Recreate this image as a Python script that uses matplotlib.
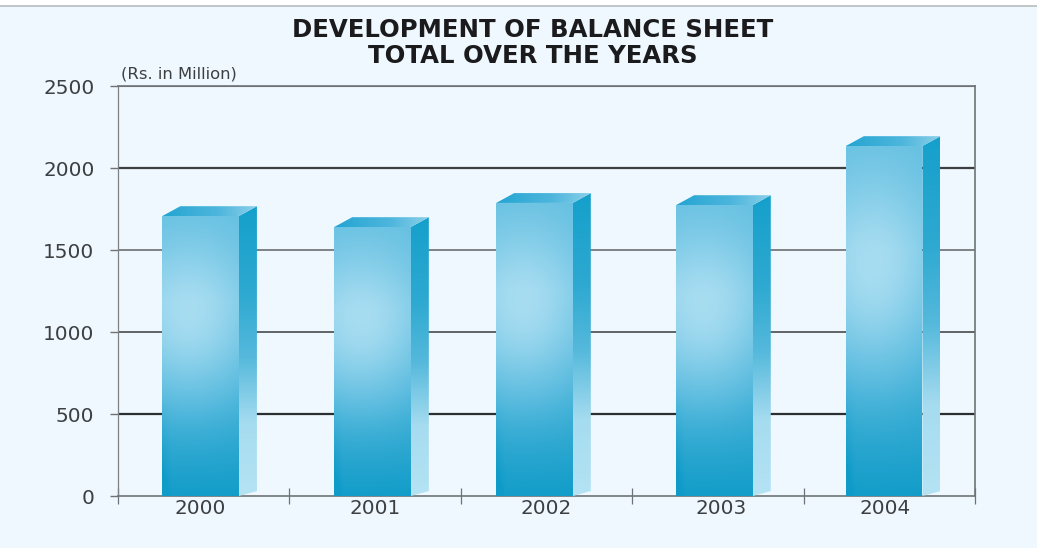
import numpy as np
import matplotlib
matplotlib.use("Agg")
import matplotlib.pyplot as plt
from matplotlib.colors import LinearSegmentedColormap
from matplotlib.patches import Polygon

plt.rcParams['font.family'] = ['DejaVu Sans']

years = ['2000', '2001', '2002', '2003', '2004']
balance_total = [1707, 1640, 1787, 1774, 2134]
y_ticks = [0, 500, 1000, 1500, 2000, 2500]

# Horizontal placement of each bar and label, in slot units
bar_centres = [0.482, 1.485, 2.430, 3.480, 4.470]
label_centres = [0.482, 1.500, 2.498, 3.520, 4.478]
bar_width = 0.447
depth_x = 0.105     # oblique offset of the 3D extrusion, slot units
depth_y = 60        # same, in value units

W, H = 1037, 548
fig = plt.figure(figsize=(W / 100, H / 100), dpi=100, facecolor='white')

# Panel background with the thin rule along its top
bg = fig.add_axes([0, 0, 1, 1])
bg.set_xlim(0, W)
bg.set_ylim(H, 0)
bg.axis('off')
bg.add_patch(plt.Rectangle((0, 6), W, H - 6, fc='#eff8fe', ec='none'))
bg.plot([0, W], [6, 6], color='#b9bcbe', lw=1.2)

ax = fig.add_axes([118 / W, 1 - 496 / H, 857 / W, 410 / H])
ax.set_facecolor('none')
ax.set_xlim(0, 5)
ax.set_ylim(0, 2500)

front_cm = LinearSegmentedColormap.from_list(
    'front', [(0, '#0f9bc8'), (0.4, '#5cbcdf'), (1, '#b8e4f5')])
side_cm = LinearSegmentedColormap.from_list(
    'side', [(0, '#b4e3f4'), (0.25, '#a6dcf0'), (0.48, '#55b9dc'),
             (0.7, '#2ea9d1'), (1, '#14a0cb')])
top_cm = LinearSegmentedColormap.from_list(
    'top', [(0, '#22a5d2'), (0.6, '#4fb6dd'), (1, '#8bd0ea')])


def front_shading():
    """Soft highlight above mid height, deepening toward the base."""
    u, v = np.meshgrid(np.linspace(0, 1, 96), np.linspace(0, 1, 256))
    field = np.clip(0.02 + v / 0.7 * 0.40, 0, 0.42)
    field = field + 0.50 * np.exp(-((u - 0.35) / 0.85) ** 2 - ((v - 0.62) / 0.30) ** 2)
    field = field - 0.10 * np.clip(1 - u / 0.12, 0, 1) * np.clip(1 - v / 0.4, 0, 1)
    return np.clip(field, 0, 1)


def shaded_face(verts, cmap, field, z=3):
    """Fill a polygon with a gradient field."""
    xs, ys = zip(*verts)
    im = ax.imshow(field, cmap=cmap, origin='lower', aspect='auto', zorder=z,
                   extent=[min(xs), max(xs), min(ys), max(ys)], vmin=0, vmax=1)
    clip = Polygon(verts, closed=True, transform=ax.transData, fc='none', ec='none')
    ax.add_patch(clip)
    im.set_clip_path(clip)


# Grid lines: 500 and 2000 are drawn heavier than the others
for v, col, lw in [(500, '#2c2f30', 1.6), (1000, '#55585a', 1.3),
                   (1500, '#77797b', 1.3), (2000, '#3c3f41', 1.6),
                   (2500, '#6f7375', 1.5)]:
    ax.axhline(v, color=col, lw=lw, zorder=1)

ramp = np.linspace(0, 1, 256)
for c, v in zip(bar_centres, balance_total):
    l, r = c - bar_width / 2, c + bar_width / 2
    shaded_face([(l, 0), (r, 0), (r, v), (l, v)], front_cm, front_shading())
    shaded_face([(r, 0), (r + depth_x, 30), (r + depth_x, v + depth_y), (r, v)],
                side_cm, ramp[:, None])
    shaded_face([(l, v), (r, v), (r + depth_x, v + depth_y), (l + depth_x, v + depth_y)],
                top_cm, ramp[None, :])

ax.set_xlim(0, 5)
ax.set_ylim(0, 2500)

for side in ['top', 'right', 'bottom']:
    ax.spines[side].set_color('#6f7375')
    ax.spines[side].set_linewidth(1.2)
ax.spines['left'].set_color('#7d8183')
ax.spines['left'].set_linewidth(0.9)

ax.set_yticks(y_ticks)
ax.set_yticklabels([str(v) for v in y_ticks], fontsize=14.4, color='#3d4042')
ax.tick_params(axis='y', length=6, width=1.0, color='#6f7375', pad=11)
ax.set_xticks(range(6))
ax.set_xticklabels([])
ax.tick_params(axis='x', direction='inout', length=12, width=0.9, color='#6f7375')

for c, label in zip(label_centres, years):
    ax.text(c, -20, label, ha='center', va='top', fontsize=14.4, color='#3d4042')

ax.text(0.02, 2530, '(Rs. in Million)', ha='left', va='bottom', fontsize=11.8, color='#3d4042')

fig.text(533 / W, 1 - 43 / H, 'DEVELOPMENT OF BALANCE SHEET\nTOTAL OVER THE YEARS',
         ha='center', va='center', fontsize=17.6, fontweight='bold', color='#1b1b1d',
         linespacing=1.1)

fig.savefig('out.png', dpi=100, facecolor=fig.get_facecolor())
